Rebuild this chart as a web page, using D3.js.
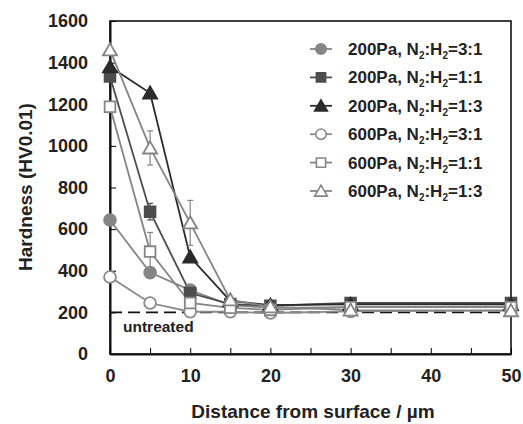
<!DOCTYPE html>
<html>
<head>
<meta charset="utf-8">
<script src="https://cdn.jsdelivr.net/npm/d3@7"></script>
<style>
  body { margin: 0; background: #fff; }
  text { font-family: "Liberation Sans", Arial, sans-serif; font-weight: bold; }
</style>
</head>
<body>
<div id="divChart"></div>
<script>
// данные
var depth = [0, 5, 10, 15, 20, 30, 50];
var p200_31 = [644, 391, 307, 235, 222, 225, 228];
var p200_11 = [1333, 684, 293, 240, 232, 245, 245];
var p200_13 = [1380, 1254, 466, 255, 235, 238, 238];
var p600_31 = [370, 245, 203, 203, 197, 205, 210];
var p600_11 = [1188, 492, 245, 222, 212, 225, 225];
var p600_13 = [1461, 990, 630, 260, 227, 211, 208];
var err600_13 = [null, 82, 108, null, null, null, null];
var err600_11 = [null, 92, null, null, null, null, null];
var err200_11 = [null, 40, null, null, null, null, null];
var seriesNames = ["3:1", "1:1", "1:3", "3:1", "1:1", "1:3"];
var pressures = ["200Pa", "200Pa", "200Pa", "600Pa", "600Pa", "600Pa"];
var yTicks = [0, 200, 400, 600, 800, 1000, 1200, 1400, 1600];
var xTicks = [0, 10, 20, 30, 40, 50];
var untreated = 200;

function init()
{
    var width = 523, height = 424;
    var left = 110, top = 21, right = 511, bottom = 354;

    var svg = d3.select("#divChart").append("svg")
        .attr("width", width)
        .attr("height", height);

    var scaleX = d3.scaleLinear().domain([0, 50]).range([left, right]);
    var scaleY = d3.scaleLinear().domain([0, 1600]).range([bottom, top]);

    // рамка
    svg.append("rect")
        .attr("x", left).attr("y", top)
        .attr("width", right - left).attr("height", bottom - top)
        .style("fill", "none").style("stroke", "#111").style("stroke-width", 1.6);

    // ось Y
    var yAxis = d3.axisLeft(scaleY).tickValues(yTicks).tickFormat(d3.format("d"))
        .tickSizeInner(-6).tickSizeOuter(0).tickPadding(22);
    var gy = svg.append("g").attr("transform", "translate(" + left + ",0)").call(yAxis);
    gy.select(".domain").style("stroke", "#111").style("stroke-width", 2);
    gy.selectAll("text").style("font-size", "18px").style("fill", "#222");

    // ось X
    var xAxis = d3.axisBottom(scaleX).tickValues(d3.range(0, 51, 5)).tickSizeInner(-6).tickSizeOuter(0).tickPadding(15)
        .tickFormat(function(d){ return xTicks.indexOf(d) >= 0 ? d : ""; });
    var gx = svg.append("g").attr("transform", "translate(0," + bottom + ")").call(xAxis);
    gx.select(".domain").style("stroke", "#111").style("stroke-width", 2);
    gx.selectAll("text").style("font-size", "18px").style("fill", "#222");

    // подписи осей
    svg.append("text")
        .attr("x", 313).attr("y", 418)
        .attr("text-anchor", "middle")
        .style("font-size", "19px").style("fill", "#222")
        .text("Distance from surface / \u00b5m");
    svg.append("text")
        .attr("transform", "translate(32,187) rotate(-90)")
        .attr("text-anchor", "middle")
        .style("font-size", "19px").style("fill", "#222")
        .text("Hardness (HV0.01)");

    // линия необработанного образца
    svg.append("line")
        .attr("x1", left).attr("x2", right)
        .attr("y1", scaleY(untreated)).attr("y2", scaleY(untreated))
        .style("stroke", "#111").style("stroke-width", 1.8)
        .style("stroke-dasharray", "12,6");
    svg.append("text")
        .attr("x", 123).attr("y", 332)
        .style("font-size", "15.5px").style("fill", "#222")
        .text("untreated");

    var series = [
        {vals: p200_31, err: null, color: "#858585", fill: "#858585", shape: d3.symbolCircle, size: 110},
        {vals: p200_11, err: err200_11, color: "#4d4d4d", fill: "#4d4d4d", shape: d3.symbolSquare, size: 115},
        {vals: p200_13, err: null, color: "#2b2b2b", fill: "#2b2b2b", shape: d3.symbolTriangle, size: 85},
        {vals: p600_31, err: null, color: "#8a8a8a", fill: "#fff", shape: d3.symbolCircle, size: 110},
        {vals: p600_11, err: err600_11, color: "#858585", fill: "#fff", shape: d3.symbolSquare, size: 115},
        {vals: p600_13, err: err600_13, color: "#858585", fill: "#fff", shape: d3.symbolTriangle, size: 85}
    ];

    var line = d3.line()
        .x(function(d, i){ return scaleX(depth[i]); })
        .y(function(d){ return scaleY(d); });

    series.forEach(function(s){
        svg.append("path")
            .attr("d", line(s.vals))
            .style("fill", "none").style("stroke", s.color).style("stroke-width", 1.8);
    });

    // планки погрешностей
    series.forEach(function(s){
        if (!s.err) return;
        s.vals.forEach(function(v, i){
            var e = s.err[i];
            if (e == null) return;
            var x = scaleX(depth[i]);
            var g = svg.append("g").style("stroke", s.color).style("stroke-width", 1.2);
            g.append("line").attr("x1", x).attr("x2", x).attr("y1", scaleY(v + e)).attr("y2", scaleY(v - e));
            g.append("line").attr("x1", x - 3).attr("x2", x + 3).attr("y1", scaleY(v + e)).attr("y2", scaleY(v + e));
            g.append("line").attr("x1", x - 3).attr("x2", x + 3).attr("y1", scaleY(v - e)).attr("y2", scaleY(v - e));
        });
    });

    series.forEach(function(s){
        svg.selectAll(null).data(s.vals).enter().append("path")
            .attr("transform", function(d, i){
                var dy = s.shape === d3.symbolTriangle ? 1.5 : 0;
                return "translate(" + scaleX(depth[i]) + "," + (scaleY(d) + dy) + ")";
            })
            .attr("d", d3.symbol().type(s.shape).size(s.size))
            .style("fill", s.fill).style("stroke", s.color).style("stroke-width", 1.8);
    });

    // легенда
    var legX = 321, legY0 = 49, legStep = 28.4;
    series.forEach(function(s, i){
        var y = legY0 + i * legStep;
        svg.append("line")
            .attr("x1", legX - 11).attr("x2", legX + 11).attr("y1", y).attr("y2", y)
            .style("stroke", s.color).style("stroke-width", 1.8);
        svg.append("path")
            .attr("transform", "translate(" + legX + "," + (y + (s.shape === d3.symbolTriangle ? 1.5 : 0)) + ")")
            .attr("d", d3.symbol().type(s.shape).size(s.shape === d3.symbolTriangle ? 70 : 85))
            .style("fill", s.fill).style("stroke", s.color).style("stroke-width", 1.6);
        var t = svg.append("text")
            .attr("x", 348).attr("y", y + 6)
            .style("font-size", "17px").style("fill", "#222");
        var r = seriesNames[i].split(":");
        t.append("tspan").text(pressures[i] + ", N");
        t.append("tspan").attr("dy", 4).style("font-size", "10px").text("2");
        t.append("tspan").attr("dy", -4).text(":H");
        t.append("tspan").attr("dy", 4).style("font-size", "10px").text("2");
        t.append("tspan").attr("dy", -4).text("=" + r[0] + ":" + r[1]);
    });
}

window.onload = init;
</script>
</body>
</html>
